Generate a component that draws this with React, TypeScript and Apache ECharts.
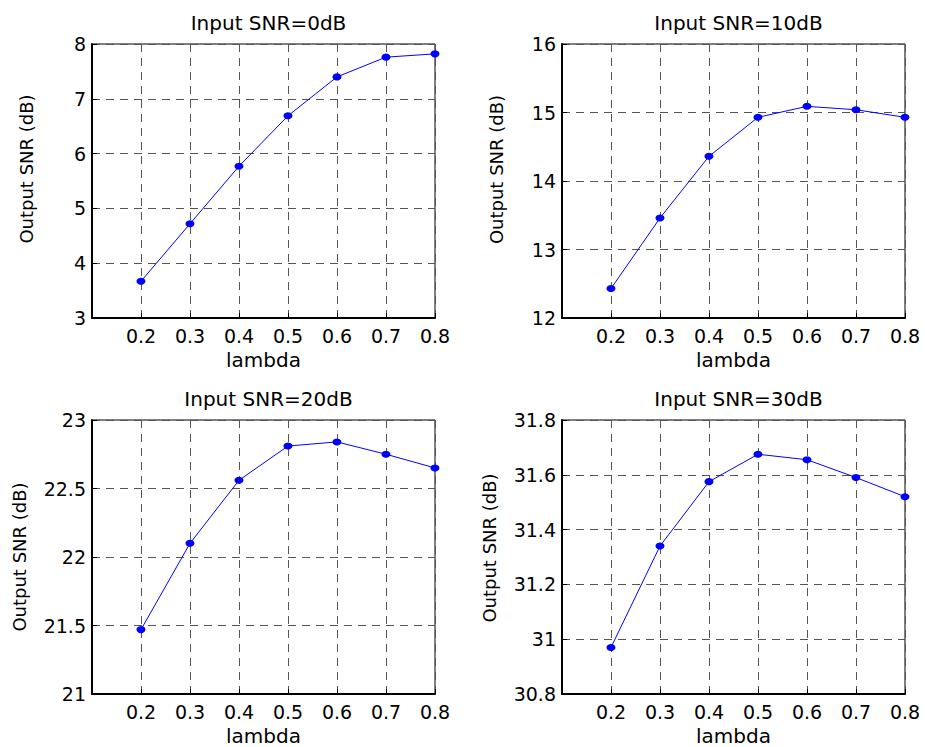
import React, { useEffect, useRef } from "react";
import * as echarts from "echarts";

const lambdaValues = [0.2, 0.3, 0.4, 0.5, 0.6, 0.7, 0.8];
const titles = ["Input SNR=0dB", "Input SNR=10dB", "Input SNR=20dB", "Input SNR=30dB"];
const snr0 = [3.67, 4.72, 5.77, 6.69, 7.4, 7.76, 7.82];
const snr10 = [12.43, 13.46, 14.36, 14.93, 15.09, 15.04, 14.93];
const snr20 = [21.47, 22.1, 22.56, 22.81, 22.84, 22.75, 22.65];
const snr30 = [30.97, 31.34, 31.575, 31.675, 31.655, 31.59, 31.52];
const yMins = [3, 12, 21, 30.8];
const yMaxs = [8, 16, 23, 31.8];
const yIntervals = [1, 1, 0.5, 0.2];
const xLabel = "lambda";
const yLabel = "Output SNR (dB)";

const FONT = "DejaVu Sans";

export default function App() {
  const ref = useRef<HTMLDivElement>(null);
  useEffect(() => {
    if (!ref.current) return;
    const chart = echarts.init(ref.current, undefined, { renderer: "svg" });
    const seriesData = [snr0, snr10, snr20, snr30];
    const gridPos = [
      { left: 92, top: 44 },
      { left: 562, top: 44 },
      { left: 92, top: 420 },
      { left: 562, top: 420 },
    ];
    const W = 343;
    const H = 274;
    const nameGaps = [57, 57, 64, 64];
    const namePads = [24, 23, 0, 18];
    const option: any = {
      animation: false,
      backgroundColor: "#ffffff",
      title: gridPos.map((g, i) => ({
        text: titles[i],
        left: g.left + W / 2,
        top: g.top - 36,
        textAlign: "center",
        textStyle: { fontFamily: FONT, fontSize: 20, fontWeight: "normal", color: "#000" },
      })),
      grid: gridPos.map((g) => ({
        left: g.left,
        top: g.top,
        width: W,
        height: H,
        show: true,
        borderColor: "#000",
        borderWidth: 1,
        backgroundColor: "#fff",
        containLabel: false,
      })),
      xAxis: gridPos.map((g, i) => ({
        type: "value",
        gridIndex: i,
        min: 0.1,
        max: 0.8,
        interval: 0.1,
        name: xLabel,
        nameLocation: "middle",
        nameGap: 32,
        nameTextStyle: { fontFamily: FONT, fontSize: 20, color: "#000" },
        axisLine: { show: true, lineStyle: { color: "#000", width: 2 } },
        axisTick: { show: true, inside: true, length: 5, lineStyle: { color: "#000" } },
        axisLabel: {
          fontFamily: FONT,
          fontSize: 19,
          color: "#000",
          margin: 8,
          formatter: (v: number) => (v < 0.15 ? "" : v.toFixed(1)),
        },
        splitLine: { show: true, lineStyle: { color: "#555", type: [8, 6], width: 1 } },
      })),
      yAxis: gridPos.map((g, i) => ({
        type: "value",
        gridIndex: i,
        min: yMins[i],
        max: yMaxs[i],
        interval: yIntervals[i],
        name: yLabel,
        nameLocation: "middle",
        nameGap: nameGaps[i],
        nameTextStyle: {
          fontFamily: FONT,
          fontSize: 18,
          color: "#000",
          padding: [0, 0, 0, namePads[i]],
        },
        axisLine: { show: true, lineStyle: { color: "#000", width: 2 } },
        axisTick: { show: true, inside: true, length: 5, lineStyle: { color: "#000" } },
        axisLabel: { fontFamily: FONT, fontSize: 19, color: "#000", margin: 6 },
        splitLine: { show: true, lineStyle: { color: "#555", type: [8, 6], width: 1 } },
      })),
      series: seriesData.map((d, i) => ({
        type: "line",
        xAxisIndex: i,
        yAxisIndex: i,
        data: lambdaValues.map((x, k) => [x, d[k]]),
        symbol: "circle",
        symbolSize: [9, 7],
        lineStyle: { color: "#0000ff", width: 1 },
        itemStyle: { color: "#0000ff" },
        showSymbol: true,
      })),
    };
    chart.setOption(option);
    return () => chart.dispose();
  }, []);
  return (
    <div
      ref={ref}
      style={{ position: "fixed", left: 0, top: 0, width: 925, height: 747, background: "#fff" }}
    />
  );
}
